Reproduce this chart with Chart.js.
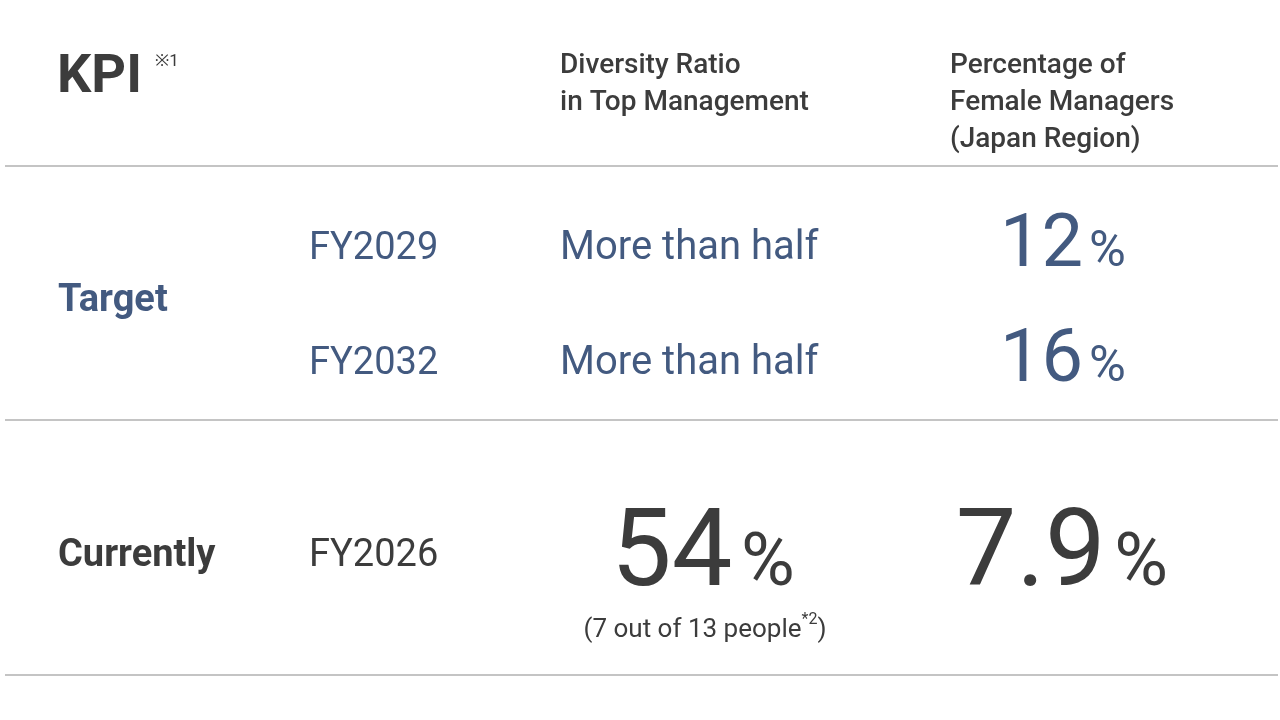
<!DOCTYPE html>
<html>
<head>
<meta charset="utf-8">
<script src="https://cdn.jsdelivr.net/npm/chart.js@4/dist/chart.umd.min.js"></script>
<style>
  html, body { margin: 0; padding: 0; background: #fff; }
  canvas { display: block; }
</style>
</head>
<body>
<canvas id="kpiChart" width="1280" height="720"></canvas>
<script>
// data
const kpiTitle = 'KPI';
const kpiNote = '※1';
const columnHeaders = [
    ['Diversity Ratio', 'in Top Management'],
    ['Percentage of', 'Female Managers', '(Japan Region)']
];
const rowLabels = ['Target', 'Currently'];
const targetYears = ['FY2029', 'FY2032'];
const diversityTargets = ['More than half', 'More than half'];
const femaleTargets = [12, 16];
const currentYear = 'FY2026';
const currentDiversity = 54;
const currentFemale = 7.9;
const currentNote = ['(7 out of 13 people', '*2', ')'];

const blue = '#435a80';
const dark = '#3c3c3c';
const font = 'Roboto, "Noto Sans", sans-serif';

const tablePlugin = {
    id: 'tableText',
    afterDatasetsDraw(chart) {
        const ctx = chart.ctx;
        const x = v => chart.scales.x.getPixelForValue(v);
        const y = v => chart.scales.y.getPixelForValue(v);
        ctx.save();
        ctx.textBaseline = 'alphabetic';

        // rules
        ctx.strokeStyle = '#8a8a8a';
        ctx.lineWidth = 1.2;
        [166, 420, 675].forEach(r => {
            ctx.beginPath();
            ctx.moveTo(x(5), y(r));
            ctx.lineTo(x(1278), y(r));
            ctx.stroke();
        });

        const text = (s, px, py, size, weight, color, align) => {
            ctx.font = `${weight} ${size}px ${font}`;
            ctx.fillStyle = color;
            ctx.textAlign = align || 'left';
            ctx.fillText(s, x(px), y(py));
        };
        // number + smaller % centered
        const pct = (num, cx, py, size, color) => {
            const n = String(num);
            ctx.font = `400 ${size}px ${font}`;
            const w1 = ctx.measureText(n).width;
            ctx.font = `400 ${size * 0.68}px ${font}`;
            const w2 = ctx.measureText('%').width;
            const gap = size * 0.08;
            const start = x(cx) - (w1 + gap + w2) / 2;
            ctx.fillStyle = color;
            ctx.textAlign = 'left';
            ctx.font = `400 ${size}px ${font}`;
            ctx.fillText(n, start, y(py));
            ctx.font = `400 ${size * 0.68}px ${font}`;
            ctx.fillText('%', start + w1 + gap, y(py));
        };

        // header
        text(kpiTitle, 57, 92, 54, 700, dark);
        text(kpiNote, 155, 66, 17, 400, dark);
        columnHeaders[0].forEach((s, i) => text(s, 560, 73 + i * 37, 28, 500, dark));
        columnHeaders[1].forEach((s, i) => text(s, 950, 73 + i * 37, 28, 500, dark));

        // target rows
        text(rowLabels[0], 58, 311, 38, 700, blue);
        const rowY = [259, 374];
        targetYears.forEach((s, i) => text(s, 309, rowY[i], 38, 400, blue));
        diversityTargets.forEach((s, i) => text(s, 560, rowY[i], 40, 400, blue));
        femaleTargets.forEach((v, i) => pct(v, 1063, rowY[i] + 7, 74, blue));

        // current row
        text(rowLabels[1], 58, 566, 38, 700, dark);
        text(currentYear, 309, 566, 38, 400, dark);
        pct(currentDiversity, 703, 585, 108, dark);
        pct(currentFemale, 1062, 585, 108, dark);

        ctx.font = `400 26px ${font}`;
        const w0 = ctx.measureText(currentNote[0]).width;
        ctx.font = `400 16px ${font}`;
        const w1 = ctx.measureText(currentNote[1]).width;
        ctx.font = `400 26px ${font}`;
        const w2 = ctx.measureText(currentNote[2]).width;
        let sx = x(705) - (w0 + w1 + w2) / 2;
        ctx.fillStyle = dark;
        ctx.textAlign = 'left';
        ctx.fillText(currentNote[0], sx, y(637));
        ctx.font = `400 16px ${font}`;
        ctx.fillText(currentNote[1], sx + w0, y(624));
        ctx.font = `400 26px ${font}`;
        ctx.fillText(currentNote[2], sx + w0 + w1, y(637));

        ctx.restore();
    }
};

new Chart(document.getElementById('kpiChart'), {
    type: 'scatter',
    data: { datasets: [{ data: [], pointRadius: 0 }] },
    options: {
        responsive: false,
        animation: false,
        devicePixelRatio: 1,
        layout: { padding: 0 },
        plugins: { legend: { display: false }, tooltip: { enabled: false } },
        scales: {
            x: { display: false, min: 0, max: 1280 },
            y: { display: false, min: 0, max: 720, reverse: true }
        }
    },
    plugins: [tablePlugin]
});
</script>
</body>
</html>
